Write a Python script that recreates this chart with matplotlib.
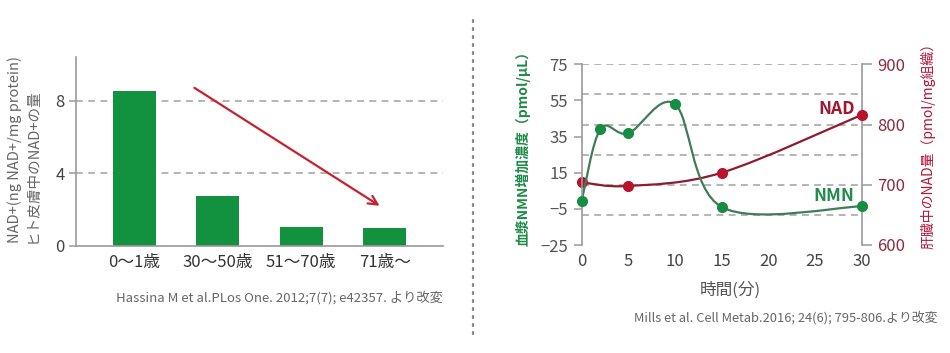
import numpy as np
import matplotlib
matplotlib.use('Agg')
import matplotlib.pyplot as plt
from matplotlib.path import Path
from matplotlib.patches import PathPatch
from matplotlib.lines import Line2D

plt.rcParams['font.family'] = ['Noto Sans CJK JP', 'DejaVu Sans']

# ---------------- data ----------------
# Left chart: NAD+ in human skin by age group
age_groups = ['0〜1歳', '30〜50歳', '51〜70歳', '71歳〜']
nad_skin = [8.5, 2.75, 1.02, 1.0]
left_yticks = [0, 4, 8]

# Right chart: plasma NMN and liver NAD over time
nmn_time = [0, 2, 5, 10, 15, 30]
nmn_values = [-0.5, 39.2, 36.8, 52.9, -4.0, -3.6]
nad_time = [0, 5, 15, 30]
nad_values = [704, 698, 720, 816]
time_ticks = [0, 5, 10, 15, 20, 25, 30]
nmn_ticks = [75, 55, 35, 15, -5, -25]
nad_ticks = [600, 700, 800, 900]
nad_grid = [650, 700, 750, 800, 850, 900]

# ---------------- figure ----------------
W, H = 950, 353
fig = plt.figure(figsize=(W / 100, H / 100), dpi=100)


def fx(px):
    return px / W


def fy(py):
    return 1 - py / H


def box(l, t, r, b):
    return [l / W, 1 - b / H, (r - l) / W, (b - t) / H]


def smooth_line(ax, xs, ys, **kw):
    """Draw a Catmull-Rom style smooth curve through the data points."""
    pts = np.column_stack([xs, ys]).astype(float)
    n = len(pts)
    verts = [pts[0]]
    codes = [Path.MOVETO]
    for i in range(n - 1):
        p0 = pts[i - 1] if i > 0 else pts[i]
        p1 = pts[i]
        p2 = pts[i + 1]
        p3 = pts[i + 2] if i + 2 < n else pts[i + 1]
        c1 = p1 + (p2 - p0) / 6
        c2 = p2 - (p3 - p1) / 6
        verts += [c1, c2, p2]
        codes += [Path.CURVE4] * 3
    patch = PathPatch(Path(verts, codes), fill=False, **kw)
    ax.add_patch(patch)
    return patch


GRID_C = '#a0a0a0'
SPINE_C = '#9a9a9a'

# ---------------- left chart ----------------
ax1 = fig.add_axes(box(76, 57, 443, 245.7))
x = np.arange(len(age_groups))
ax1.bar(x, nad_skin, width=0.52, color='#12923f', zorder=2)
for v in left_yticks[1:]:
    ax1.axhline(v, color=GRID_C, lw=1.1, ls=(0, (4.5, 3.5)), zorder=0)
ax1.set_xlim(-0.70, 3.70)
ax1.set_ylim(0, 10.4)
ax1.set_xticks(x)
ax1.set_xticklabels(age_groups)
ax1.set_yticks(left_yticks)
for s in ['top', 'right']:
    ax1.spines[s].set_visible(False)
for s in ['left', 'bottom']:
    ax1.spines[s].set_color(SPINE_C)
    ax1.spines[s].set_linewidth(1.2)
ax1.tick_params(axis='x', length=0, pad=6, labelsize=12, labelcolor='#333333')
ax1.tick_params(axis='y', length=5, width=1.1, color=SPINE_C, pad=3,
                labelsize=12, labelcolor='#444444')
ax1.annotate('', xy=(2.94, 2.2), xytext=(0.72, 8.7),
             arrowprops=dict(arrowstyle='->', color='#c8202e', lw=1.6,
                             mutation_scale=16, shrinkA=0, shrinkB=0))

fig.text(fx(15), fy(243), 'NAD+(ng NAD+/mg protein)', rotation=90,
         ha='center', va='bottom', color='#666666', fontsize=10.5)
fig.text(fx(33), fy(243), 'ヒト皮膚中のNAD+の量', rotation=90,
         ha='center', va='bottom', color='#666666', fontsize=10.5)
fig.text(fx(443), fy(298), 'Hassina M et al.PLos One. 2012;7(7); e42357. より改変',
         ha='right', va='center', fontsize=9.5, color='#666666')

# separator
fig.add_artist(Line2D([fx(473), fx(473)], [fy(20), fy(336)], color='#888888',
                      lw=1.6, ls=(0, (0.9, 2.7)), dash_capstyle='round'))

# ---------------- right chart ----------------
ax = fig.add_axes(box(581.7, 64.3, 861.7, 245))
ax2 = ax.twinx()
ax.set_zorder(ax2.get_zorder() + 1)
ax.patch.set_visible(False)

ax.set_xlim(0, 30)
ax.set_ylim(-25, 75)
ax2.set_ylim(600, 900)

for v in nad_grid:
    ax2.axhline(v, color=GRID_C, lw=1.1, ls=(0, (4.5, 3.5)), zorder=0)

for a in (ax, ax2):
    for s in a.spines.values():
        s.set_visible(False)
ax.spines['left'].set_visible(True)
ax.spines['left'].set_color(SPINE_C)
ax.spines['left'].set_linewidth(1.2)
ax2.spines['right'].set_visible(True)
ax2.spines['right'].set_color(SPINE_C)
ax2.spines['right'].set_linewidth(1.2)

ax.set_xticks(time_ticks)
ax.set_yticks(nmn_ticks)
ax2.set_yticks(nad_ticks)
ax.tick_params(axis='x', length=0, pad=6, labelsize=12, labelcolor='#444444')
ax.tick_params(axis='y', length=6, width=1.1, color=SPINE_C, pad=4,
               labelsize=12, labelcolor='#555555')
ax2.tick_params(axis='y', length=7, width=1.1, color=SPINE_C, pad=4,
                labelsize=12, labelcolor='#8e2a3e')

# NAD (liver)
smooth_line(ax2, nad_time, nad_values, color='#8e1b2e', lw=1.6, zorder=2)
ax2.plot(nad_time, nad_values, 'o', color='#b8132d', ms=7, clip_on=False, zorder=3)
# NMN (plasma)
smooth_line(ax, nmn_time, nmn_values, color='#3f7d57', lw=1.6, zorder=2)
ax.plot(nmn_time, nmn_values, 'o', color='#178c45', ms=7, clip_on=False, zorder=3)

ax.text(27.3, 50.3, 'NAD', color='#a3172e', fontsize=12.5, fontweight='bold',
        ha='center', va='center')
ax.text(27.0, 2.1, 'NMN', color='#1f8c4c', fontsize=12.5, fontweight='bold',
        ha='center', va='center')

fig.text(fx(523), fy(145), '血漿NMN増加濃度（pmol/μL）', rotation=90,
         ha='center', va='center', color='#1d8b48', fontsize=10, fontweight='bold')
fig.text(fx(928), fy(142), '肝臓中のNAD量（pmol/mg組織）', rotation=90,
         ha='center', va='center', color='#b3153a', fontsize=10)
fig.text(fx(730), fy(290), '時間(分)', ha='center', va='center',
         color='#555555', fontsize=12)
fig.text(fx(937), fy(318), 'Mills et al. Cell Metab.2016; 24(6); 795-806.より改変',
         ha='right', va='center', fontsize=9.3, color='#666666')

fig.savefig('out.png', dpi=100)
